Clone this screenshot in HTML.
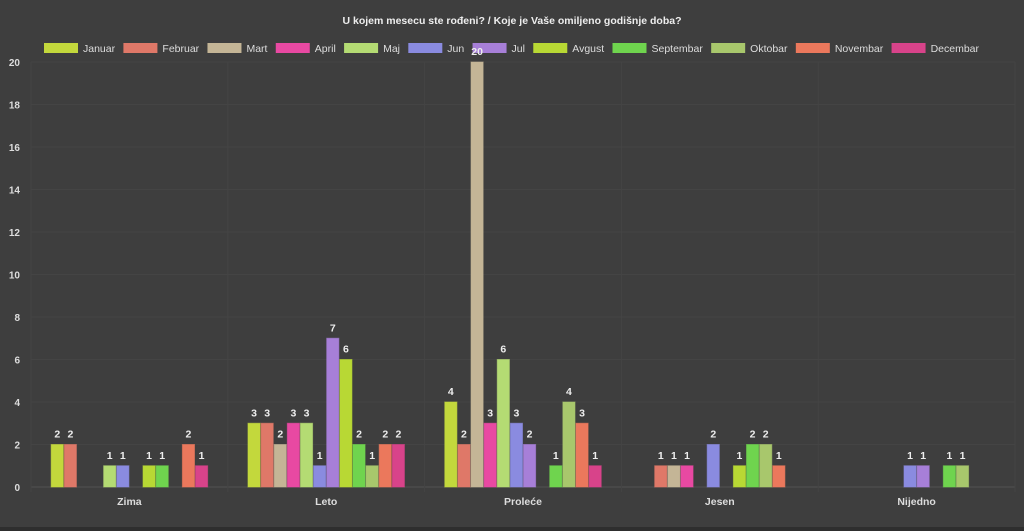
<!DOCTYPE html>
<html><head><meta charset="utf-8"><style>
body{margin:0;background:#3e3e3e;width:1024px;height:531px;overflow:hidden;font-family:"Liberation Sans",sans-serif;}
svg{display:block}
</style></head><body>
<svg id="c" width="1024" height="531">
<rect x="0" y="0" width="1024" height="527" fill="#3e3e3e"/>
<rect x="0" y="527" width="1024" height="4" fill="#2e2e2e"/>
<text x="512" y="24" text-anchor="middle" font-size="10.5" font-weight="bold" fill="#eee">U kojem mesecu ste rođeni? / Koje je Vaše omiljeno godišnje doba?</text>
<g id="grid"></g><g id="legend"></g><g id="bars"></g><g id="axes"></g>
</svg>
<script>
const categories=["Zima","Leto","Proleće","Jesen","Nijedno"];
const seriesNames=["Januar","Februar","Mart","April","Maj","Jun","Jul","Avgust","Septembar","Oktobar","Novembar","Decembar"];
const colors=["#c3d83c","#df7868","#c4b596","#e849a2","#b4db73","#8a8be0","#a77fd8","#b8d834","#6fd44e","#a8c76c","#eb785c","#d8438a"];
const v0=[2,3,4,0,0],v1=[2,3,2,1,0],v2=[0,2,20,1,0],v3=[0,3,3,1,0],v4=[1,3,6,0,0],v5=[1,1,3,2,1],v6=[0,7,2,0,1],v7=[1,6,0,1,0],v8=[1,2,1,2,1],v9=[0,1,4,2,1],v10=[2,2,3,1,0],v11=[1,2,1,0,0];
const values=[v0,v1,v2,v3,v4,v5,v6,v7,v8,v9,v10,v11];
const yTicks=[0,2,4,6,8,10,12,14,16,18,20];
const NS="http://www.w3.org/2000/svg";
const L=31,R=1015,T=62,B=487,yMax=20;
const cw=(R-L)/categories.length;
const y=v=>B-(v/yMax)*(B-T);
const bw=cw*0.8/seriesNames.length;
const bx=(c,s)=>L+c*cw+cw*0.1+s*bw;
function mk(t,a,p){const e=document.createElementNS(NS,t);for(const k in a)e.setAttribute(k,a[k]);p.appendChild(e);return e;}
const grid=document.getElementById('grid'),axes=document.getElementById('axes'),bars=document.getElementById('bars'),leg=document.getElementById('legend');
yTicks.forEach(t=>{
 const l=mk('line',{x1:L,x2:R,y1:y(t),y2:y(t),stroke:t===0?'#525252':'#444','stroke-width':1},grid);
 
 
 const tx=mk('text',{x:20,y:y(t)+4,'text-anchor':'end','font-size':10,'font-weight':'bold',fill:'#ddd'},axes);
 tx.textContent=t;
 
 
});
for(let i=0;i<=categories.length;i++){
 const l=mk('line',{x1:L+i*cw,x2:L+i*cw,y1:T,y2:B+5,stroke:'#444','stroke-width':1},grid);
 
 
}
categories.forEach((c,i)=>{
 const tx=mk('text',{x:L+i*cw+cw/2,y:505,'text-anchor':'middle','font-size':10.5,'font-weight':'bold',fill:'#ddd'},axes);
 tx.textContent=c;
 
 
});
values.forEach((arr,s)=>{
 arr.forEach((v,c)=>{
  if(v<=0)return;
  const r=mk('rect',{x:bx(c,s)+0.5,y:y(v),width:bw-1,height:B-y(v),fill:colors[s],stroke:colors[s],'stroke-opacity':0.6},bars);
  
  
  const tx=mk('text',{x:bx(c,s)+bw/2,y:y(v)-7,'text-anchor':'middle','font-size':10.5,'font-weight':'bold',fill:'#eee'},bars);
  tx.textContent=v;
  
  
 });
});
// legend
const items=[];
let textSum=0;
seriesNames.forEach((n,i)=>{
 const g=mk('g',{},leg);
 
 
 const r=mk('rect',{x:0,y:43,width:34,height:10,fill:colors[i]},g);
 const t=mk('text',{x:0,y:52,'font-size':10.5,fill:'#ddd'},g);
 t.textContent=n;
 const w=t.getComputedTextLength();
 textSum+=w;
 items.push({r,t,w});
});
const span=935, boxes=12*(34+5);
const sc=Math.min(1,(span-boxes-11*8)/textSum);
let gap=(span-boxes-textSum*sc)/11;
let lx=44;
items.forEach(it=>{
 it.r.setAttribute('x',lx);
 it.t.setAttribute('x',lx+39);
 if(sc<1){it.t.setAttribute('textLength',it.w*sc);it.t.setAttribute('lengthAdjust','spacingAndGlyphs');}
 lx+=39+it.w*sc+gap;
});
</script>
</body></html>
